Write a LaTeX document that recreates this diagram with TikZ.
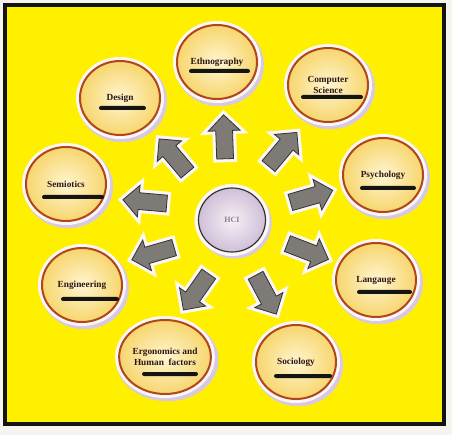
\documentclass[tikz,border=0pt]{standalone}
\usepackage{fontspec}
\setmainfont{Liberation Serif}
\usetikzlibrary{shapes.geometric, shapes.arrows, calc, shadows}

\definecolor{pagebg}{HTML}{F7F3EF}
\definecolor{bgyellow}{HTML}{FFF000}
\definecolor{discin}{HTML}{FFF5D0}
\definecolor{discout}{HTML}{F7D66E}
\definecolor{discedge}{HTML}{B0461E}
\definecolor{disctext}{HTML}{2A1614}
\definecolor{hubin}{HTML}{F6F0F6}
\definecolor{hubout}{HTML}{CFBFD8}
\definecolor{hubtext}{HTML}{8A7C8E}
\definecolor{arrowfill}{HTML}{7E7A75}
\definecolor{halo}{HTML}{FCF6F5}
\definecolor{shadowc}{HTML}{D8C8E2}

\begin{document}
\begin{tikzpicture}[x=1pt, y=-1pt,
    disc/.style={ellipse, draw=discedge, line width=2pt, inner color=discin, outer color=discout, minimum width=80pt, minimum height=74pt, inner sep=0pt, align=center, font=\fontsize{9.3}{10.5}\selectfont\bfseries, text=disctext, drop shadow={shadow xshift=2pt, shadow yshift=-2.5pt, shadow scale=1.12, fill=shadowc, opacity=1}, preaction={draw=halo, line width=8pt}},
    hub/.style={ellipse, draw=black!80, line width=1.2pt, inner color=hubin, outer color=hubout, minimum width=67pt, minimum height=64pt, inner sep=0pt, font=\fontsize{8}{9}\selectfont\bfseries, text=hubtext, drop shadow={shadow xshift=2pt, shadow yshift=-2.5pt, shadow scale=1.12, fill=shadowc, opacity=1}, preaction={draw=halo, line width=8pt}},
    bar/.style={rectangle, fill=black!92, rounded corners=2pt, minimum height=4pt, inner sep=0pt},
    blockarr/.style={single arrow, draw=black!80, fill=arrowfill, line width=0.8pt, minimum height=44pt, minimum width=31pt, single arrow head extend=7.5pt, single arrow head indent=0pt, inner xsep=0pt, inner ysep=8pt, preaction={draw=halo, line width=7pt}},
    frame/.style={draw=black!92, line width=4.5pt, fill=bgyellow}
]
    % Page and frame
    \path[fill=pagebg, use as bounding box] (0,0) rectangle (452,435);
    \draw[frame] (5,5) rectangle (444,424);

    % Hub in the middle
    \node[hub] (hci) at (232,220) {HCI};

    % Disciplines round the hub
    \node[disc] (ethno) at (217,62) {Ethnography};
    \node[disc] (design) at (120,98) {Design};
    \node[disc] (comp) at (328,85) {Computer\\Science};
    \node[disc] (psych) at (383,175) {Psychology};
    \node[disc] (semio) at (66,184) {Semiotics};
    \node[disc] (engin) at (82,285) {Engineering};
    \node[disc] (langu) at (376,280) {Langauge};
    \node[disc] (ergo) at (165,357) {Ergonomics and\\Human\ \ factors};
    \node[disc] (socio) at (296,362) {Sociology};

    % Black bars under the names
    \node[bar, minimum width=61pt] (ethnobar) at ([shift={(2.5pt,-9pt)}]ethno.center) {};
    \node[bar, minimum width=47pt] (designbar) at ([shift={(2.5pt,-10pt)}]design.center) {};
    \node[bar, minimum width=62pt] (compbar) at ([shift={(4pt,-12pt)}]comp.center) {};
    \node[bar, minimum width=56pt] (psychbar) at ([shift={(5pt,-13pt)}]psych.center) {};
    \node[bar, minimum width=62pt] (semiobar) at ([shift={(7pt,-13pt)}]semio.center) {};
    \node[bar, minimum width=58pt] (enginbar) at ([shift={(8pt,-14pt)}]engin.center) {};
    \node[bar, minimum width=55pt] (langubar) at ([shift={(8.5pt,-12pt)}]langu.center) {};
    \node[bar, minimum width=56pt] (ergobar) at ([shift={(5pt,-17pt)}]ergo.center) {};
    \node[bar, minimum width=58pt] (sociobar) at ([shift={(7pt,-14pt)}]socio.center) {};

    % Block arrows from the hub outwards
    \node[blockarr, rotate=92] (arrethno) at ($(hci)!0.5!(ethno)$) {};
    \node[blockarr, rotate=130] (arrdesign) at ($(hci)!0.5!(design)$) {};
    \node[blockarr, rotate=50] (arrcomp) at ($(hci)!0.5!(comp)$) {};
    \node[blockarr, rotate=16] (arrpsych) at ($(hci)!0.5!(psych)$) {};
    \node[blockarr, rotate=175] (arrsemio) at ($(hci)!0.5!(semio)$) {};
    \node[blockarr, rotate=196] (arrengin) at ($(hci)!0.5!(engin)$) {};
    \node[blockarr, rotate=-21] (arrlangu) at ($(hci)!0.5!(langu)$) {};
    \node[blockarr, rotate=235] (arrergo) at ($(hci)!0.5!(ergo)$) {};
    \node[blockarr, rotate=-62] (arrsocio) at ($(hci)!0.5!(socio)$) {};
\end{tikzpicture}
\end{document}
